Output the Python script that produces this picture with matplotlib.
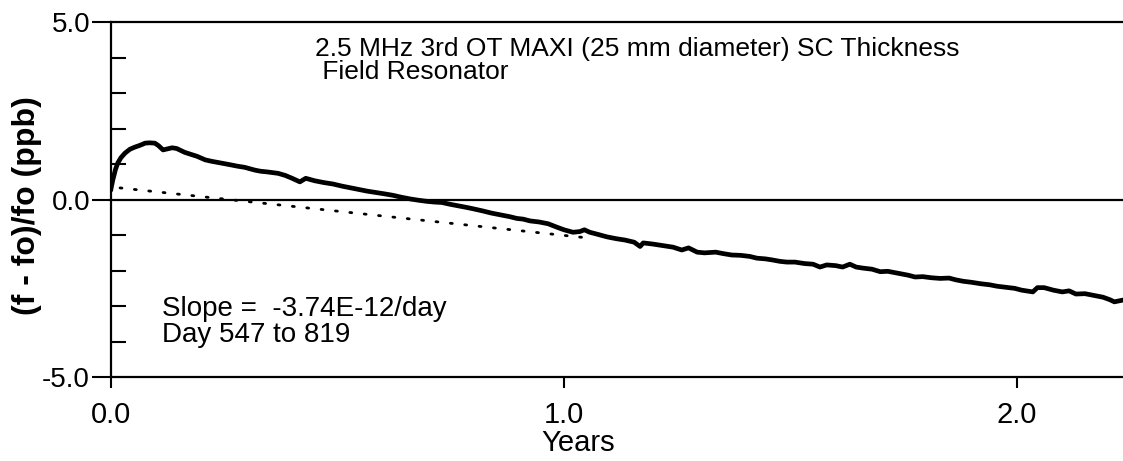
import numpy as np
import matplotlib
matplotlib.use('Agg')
import matplotlib.pyplot as plt
from matplotlib import font_manager

# aging curve (years, ppb)
years = [0.000, 0.004, 0.010, 0.015, 0.022, 0.031, 0.042, 0.053, 0.062, 0.070,
         0.075, 0.085, 0.097, 0.105, 0.115, 0.122, 0.135, 0.145, 0.155, 0.163,
         0.175, 0.190, 0.208, 0.222, 0.235, 0.245, 0.260, 0.280, 0.295, 0.318,
         0.330, 0.345, 0.369, 0.385, 0.400, 0.417, 0.430, 0.450, 0.470, 0.490,
         0.510, 0.530, 0.550, 0.565, 0.585, 0.605, 0.623, 0.640, 0.660, 0.680,
         0.698, 0.715, 0.730, 0.748, 0.765, 0.785, 0.800, 0.821, 0.840, 0.860,
         0.880, 0.896, 0.910, 0.925, 0.945, 0.965, 0.985, 1.000, 1.020, 1.035,
         1.045, 1.057, 1.075, 1.095, 1.115, 1.135, 1.155, 1.168, 1.175, 1.195,
         1.215, 1.241, 1.260, 1.275, 1.294, 1.310, 1.335, 1.351, 1.370, 1.390,
         1.410, 1.426, 1.445, 1.460, 1.477, 1.492, 1.510, 1.530, 1.550, 1.565,
         1.580, 1.600, 1.615, 1.631, 1.645, 1.660, 1.680, 1.698, 1.715, 1.740,
         1.760, 1.775, 1.792, 1.810, 1.830, 1.850, 1.865, 1.881, 1.900, 1.920,
         1.940, 1.956, 1.975, 1.995, 2.010, 2.025, 2.035, 2.045, 2.060, 2.080,
         2.100, 2.115, 2.130, 2.150, 2.170, 2.190, 2.205, 2.215, 2.234]
dev = [0.30, 0.55, 0.85, 1.03, 1.18, 1.31, 1.42, 1.48, 1.52, 1.56,
       1.59, 1.60, 1.59, 1.52, 1.40, 1.42, 1.46, 1.44, 1.38, 1.33,
       1.28, 1.22, 1.12, 1.08, 1.05, 1.03, 0.99, 0.94, 0.91, 0.83,
       0.80, 0.78, 0.74, 0.68, 0.60, 0.50, 0.60, 0.53, 0.48, 0.44,
       0.38, 0.33, 0.28, 0.24, 0.20, 0.16, 0.12, 0.07, 0.02, -0.02,
       -0.05, -0.07, -0.08, -0.13, -0.17, -0.22, -0.26, -0.32, -0.38, -0.43,
       -0.48, -0.53, -0.55, -0.60, -0.63, -0.68, -0.78, -0.85, -0.92, -0.90,
       -0.85, -0.92, -0.98, -1.05, -1.10, -1.14, -1.20, -1.32, -1.22, -1.25,
       -1.29, -1.34, -1.42, -1.36, -1.48, -1.50, -1.48, -1.52, -1.56, -1.57,
       -1.60, -1.65, -1.67, -1.70, -1.74, -1.76, -1.76, -1.80, -1.82, -1.90,
       -1.84, -1.86, -1.90, -1.82, -1.90, -1.93, -1.96, -2.03, -2.02, -2.08,
       -2.13, -2.18, -2.17, -2.20, -2.22, -2.21, -2.26, -2.30, -2.33, -2.37,
       -2.40, -2.44, -2.47, -2.50, -2.55, -2.58, -2.60, -2.48, -2.48, -2.55,
       -2.60, -2.57, -2.66, -2.65, -2.70, -2.75, -2.82, -2.88, -2.83]

# linear fit (dotted)
fit_x = [0.02, 1.06]
fit_y = [0.33, -1.09]

installed = {f.name for f in font_manager.fontManager.ttflist}
narrow = [f for f in ['DejaVu Sans Condensed', 'Liberation Sans Narrow', 'Liberation Sans']
          if f in installed] + ['DejaVu Sans']
plt.rcParams['font.family'] = narrow

fig = plt.figure(figsize=(11.23, 4.61), dpi=100)
ax = fig.add_axes([0.0988, 0.182, 0.9012, 0.770])

ax.plot(years, dev, color='black', lw=3.4, solid_joinstyle='round')
ax.plot(fit_x, fit_y, color='black', lw=2.0, linestyle=(0, (0.7, 4.5)),
        dash_capstyle='round')
ax.axhline(0, color='black', lw=1.6)

ax.set_xlim(0, 2.234)
ax.set_ylim(-5, 5)

ax.spines['right'].set_visible(False)
for s in ['left', 'top', 'bottom']:
    ax.spines[s].set_linewidth(1.6)

ax.set_xticks([0, 1, 2])
ax.set_xticklabels(['0.0', '1.0', '2.0'], fontsize=21)
ax.tick_params(axis='x', direction='out', length=8, width=1.5, pad=9)

ax.set_yticks([-5, 0, 5])
ax.set_yticklabels(['-5.0', '0.0', '5.0'], fontsize=20)
ax.tick_params(axis='y', direction='out', length=14, width=1.5, pad=1)
ax.set_yticks([-4, -3, -2, -1, 1, 2, 3, 4], minor=True)
ax.tick_params(axis='y', which='minor', direction='in', length=11, width=1.5)
ax.tick_params(axis='x', which='minor', bottom=False)

fig.text(0.515, 0.008, 'Years', fontsize=21, ha='center', va='bottom')
fig.text(0.024, 0.555, '(f - fo)/fo (ppb)', fontsize=23, fontweight='bold',
         rotation=90, ha='center', va='center', family=['Liberation Sans', 'DejaVu Sans'])

ax.text(0.202, 0.957, '2.5 MHz 3rd OT MAXI (25 mm diameter) SC Thickness\n Field Resonator',
        transform=ax.transAxes, fontsize=19, va='top', ha='left', linespacing=0.95)
ax.text(0.05, 0.228, 'Slope =  -3.74E-12/day\nDay 547 to 819',
        transform=ax.transAxes, fontsize=20, va='top', ha='left', linespacing=0.98)

fig.savefig('out.png', dpi=100)
